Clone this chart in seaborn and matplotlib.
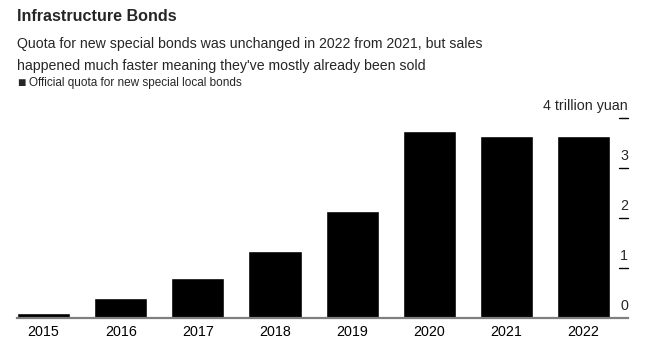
import pandas as pd
import matplotlib.pyplot as plt
import seaborn as sns
from matplotlib import transforms

years = ['2015', '2016', '2017', '2018', '2019', '2020', '2021', '2022']
quota = [0.1, 0.4, 0.8, 1.35, 2.15, 3.75, 3.65, 3.65]
yticks = [0, 1, 2, 3, 4]
ytick_labels = ['0', '1', '2', '3', '4 trillion yuan']

sns.set_style('white')
plt.rcParams['font.family'] = ['Liberation Sans', 'DejaVu Sans']

df = pd.DataFrame({'year': years, 'quota': quota})

fig = plt.figure(figsize=(6.52, 3.52), dpi=100)
ax = fig.add_axes([17 / 652, 34 / 352, (628 - 17) / 652, 200 / 352])

sns.barplot(data=df, x='year', y='quota', color='black', width=0.69,
            saturation=1, ax=ax)

ax.set_xlim(-0.345, 7.577)
ax.set_ylim(0, 4)
ax.set_xlabel('')
ax.set_ylabel('')
for s in ['top', 'left', 'right']:
    ax.spines[s].set_visible(False)
ax.spines['bottom'].set_color('#7f7f7f')
ax.spines['bottom'].set_linewidth(1.6)
ax.tick_params(axis='x', length=0, labelsize=10.3, pad=5, colors='black')
ax.set_yticks([])

# right-hand value ticks: short dash with label above it
trans = transforms.blended_transform_factory(ax.transAxes, ax.transData)
for v, lab in zip(yticks, ytick_labels):
    if v > 0:
        ax.plot([0.985, 1.0], [v, v], color='black', lw=1, transform=trans,
                clip_on=False)
    ax.text(1.0, v + 0.1, lab, transform=trans, ha='right', va='bottom',
            fontsize=10.3, clip_on=False)

fig.text(17 / 652, 1 - 9 / 352, 'Infrastructure Bonds', fontsize=11.6,
         fontweight='bold', ha='left', va='top')
fig.text(17 / 652, 1 - 37 / 352,
         "Quota for new special bonds was unchanged in 2022 from 2021, but sales\n"
         "happened much faster meaning they've mostly already been sold",
         fontsize=10.2, ha='left', va='top', linespacing=1.75)
fig.text(17 / 652, 1 - 83 / 352, '\u25a0', fontsize=10, ha='left', va='center')
fig.text(29 / 652, 1 - 83 / 352, 'Official quota for new special local bonds',
         fontsize=8.5, ha='left', va='center')

plt.savefig('out.png', dpi=100)
